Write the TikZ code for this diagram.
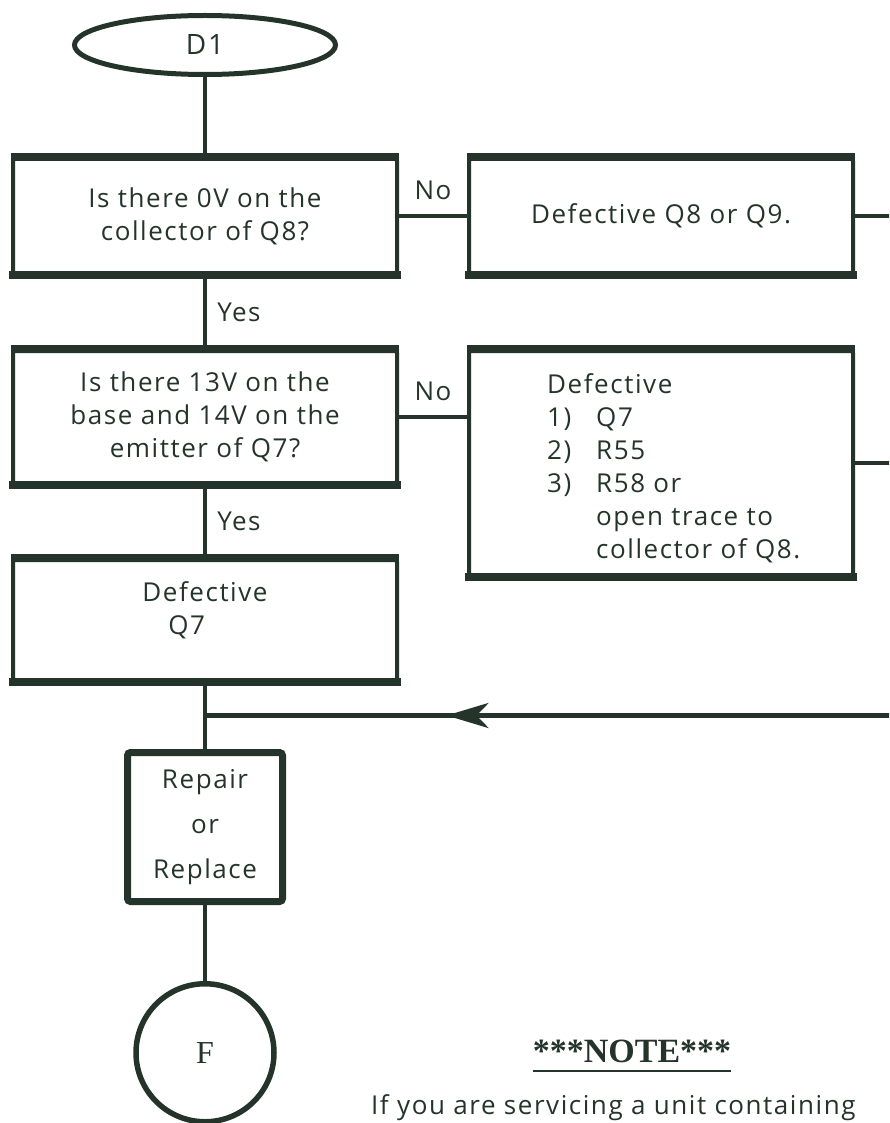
\documentclass[tikz,border=0pt]{standalone}
\usepackage{fontspec}
\setmainfont{Open Sans}[LetterSpace=6]
\newfontfamily\notefont{Liberation Serif}
\usetikzlibrary{positioning,calc,arrows.meta,shapes.geometric,decorations.markings}
\definecolor{ink}{RGB}{36,52,42}
\newcommand{\boxfont}{\fontsize{26}{33}\selectfont}
\newcommand{\numitem}[1]{\makebox[49pt][l]{#1}}

\begin{document}
\begin{tikzpicture}[
  x=1pt, y=-1pt,
  every node/.style={align=center, font=\boxfont, text=ink},
  term/.style={ellipse, draw=ink, line width=5pt, minimum width=261pt, minimum height=59pt, font=\fontsize{28}{28}\selectfont},
  stopper/.style={circle, draw=ink, line width=5.5pt, minimum size=138pt, font=\notefont\fontsize{32}{32}\selectfont},
  ask/.style={rectangle, draw=ink, line width=4pt, minimum width=384pt, rounded corners=2pt, inner sep=0pt},
  fixbox/.style={rectangle, draw=ink, line width=7pt, minimum width=155pt, minimum height=149pt, rounded corners=3pt, inner sep=0pt},
  bar/.style={draw=ink, line width=8pt, shorten <=-2pt, shorten >=-2pt},
  flow/.style={draw=ink, line width=4.5pt},
  lbl/.style={inner sep=2pt},
  retflow/.style={flow, postaction={decorate}, decoration={markings, mark=at position 0.65 with {\arrow[ink]{Stealth[length=42pt,width=25pt,inset=12pt]}}}}
]
\useasboundingbox (0,0) rectangle (889,1123);
\clip (0,0) rectangle (889,1123);
% start
\node[term] (start) at (205,45) {D1};
% questions down the left column
\node[ask, minimum height=114pt, below=80pt of start] (q1) {Is there 0V on the\\collector of Q8?};
\node[ask, minimum height=132pt, below=74pt of q1] (q2) {Is there 13V on the\\base and 14V on the\\emitter of Q7?};
\node[ask, minimum height=120pt, below=73pt of q2, align=left, text depth=24pt] (d3) {Defective\\\hspace*{26pt}Q7};
\node[fixbox, below=67pt of d3] (fix) {Repair\\[12pt]or\\[12pt]Replace};
\node[stopper, below=76pt of fix] (stop) {F};
% faults on the right
\node[ask, minimum height=114pt, right=68pt of q1] (d1) {Defective Q8 or Q9.};
\node[ask, minimum height=224pt, anchor=north west] (d2) at (q2.north -| d1.west) {};
\node[align=left, inner sep=0pt, below right=24pt and 80pt of d2.north west] (d2txt) {Defective\\\numitem{1)}Q7\\\numitem{2)}R55\\\numitem{3)}R58 or\\\hspace*{49pt}open trace to\\\hspace*{49pt}collector of Q8.};
% heavy top and bottom edges
\foreach \b in {q1,q2,d3,d1,d2}
  \draw[bar] (\b.north west) -- (\b.north east) (\b.south west) -- (\b.south east);
% note
\node[font=\notefont\bfseries\fontsize{34}{34}\selectfont, inner sep=0pt] (note) at (632,1051) {***NOTE***};
\draw[ink, line width=2pt] ([yshift=-8pt]note.south west) -- ([yshift=-8pt]note.south east);
\node[anchor=base west, inner sep=0pt] (notetxt) at (371,1114) {If you are servicing a unit containing};
% connectors
\coordinate (rim) at (895,0);
\coordinate (join) at ($(d3.south)!0.5!(fix.north)$);
\coordinate (back) at (join -| rim);
\draw[flow] (start) -- (q1);
\draw[flow] (q1) -- node[lbl, right=8pt] (yes1) {Yes} (q2);
\draw[flow] (q2) -- node[lbl, right=8pt] (yes2) {Yes} (d3);
\draw[flow] (q1) -- node[lbl, above=12pt] (no1) {No} (d1);
\draw[flow] (q2.east) -- node[lbl, above=12pt] (no2) {No} (q2.east -| d2.west);
\draw[flow] (d1.east) -- (d1.east -| rim);
\draw[flow] (d2.east) -- (d2.east -| rim);
\draw[flow] (d3) -- (fix);
\draw[retflow] (back) -- (join);
\draw[flow] (fix) -- (stop);
\end{tikzpicture}
\end{document}
